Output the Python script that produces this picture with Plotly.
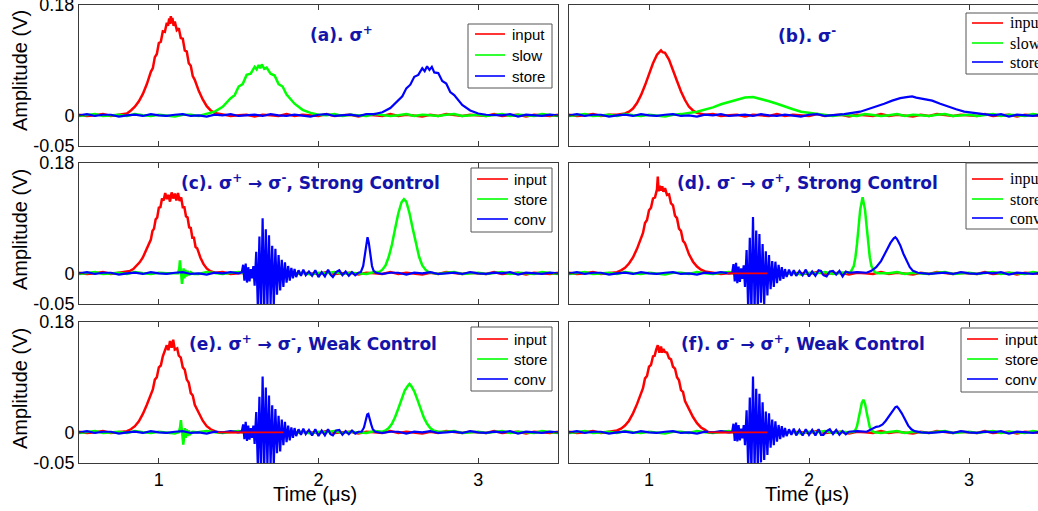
import plotly.graph_objects as go

W, H = 1038, 511
RED, GREEN, BLUE = "#ff0000", "#00ff00", "#0000ff"
TITLE_BLUE = "#1414aa"
FRAME = "#3a3a3a"

# ---------------- baseline noise shared by every trace ----------------
base_t = [0.50, 0.55, 0.60, 0.65, 0.70, 0.75, 0.80, 0.85, 0.90, 0.95,
          1.00, 1.05, 1.10, 1.15, 1.20, 1.25, 1.30, 1.35, 1.40, 1.45,
          1.50, 1.55, 1.60, 1.65, 1.70, 1.75, 1.80, 1.85, 1.90, 1.95,
          2.00, 2.05, 2.10, 2.15, 2.20, 2.25, 2.30, 2.35, 2.40, 2.45,
          2.50, 2.55, 2.60, 2.65, 2.70, 2.75, 2.80, 2.85, 2.90, 2.95,
          3.00, 3.05, 3.10, 3.15, 3.20, 3.25, 3.30, 3.35, 3.40, 3.45,
          3.50]
base_red = [0.001, -0.001, 0.000, 0.002, -0.001, 0.001, -0.002, 0.000, 0.001, -0.001,
            0.002, -0.001, 0.000, 0.001, -0.002, 0.001, 0.000, -0.001, 0.002, -0.001,
            0.000, 0.001, -0.002, 0.001, 0.000, -0.001, 0.002, -0.001, 0.001, 0.000,
            -0.001, 0.002, -0.001, 0.000, 0.001, -0.002, 0.001, 0.000, -0.001, 0.002,
            -0.001, 0.001, 0.000, -0.002, 0.001, -0.001, 0.002, 0.000, -0.001, 0.001,
            0.000, -0.001, 0.002, -0.001, 0.000, 0.001, -0.002, 0.001, 0.000, -0.001,
            0.001]
base_green = [-0.001, 0.001, 0.002, -0.001, 0.000, 0.001, -0.001, 0.002, 0.000, -0.001,
              0.001, 0.000, -0.002, 0.001, 0.001, -0.001, 0.002, 0.000, -0.001, 0.001,
              0.002, -0.001, 0.000, 0.001, -0.001, 0.002, 0.000, -0.001, 0.001, -0.002,
              0.001, 0.000, 0.002, -0.001, 0.001, 0.000, -0.001, 0.002, 0.001, -0.001,
              0.000, 0.002, -0.001, 0.001, 0.000, -0.001, 0.001, 0.002, -0.001, 0.000,
              0.001, -0.001, 0.000, 0.002, -0.001, 0.001, 0.000, -0.001, 0.002, 0.000,
              -0.001]
base_blue = [0.000, 0.002, -0.001, 0.001, 0.001, -0.002, 0.000, 0.001, -0.001, 0.002,
             0.000, -0.001, 0.001, 0.002, -0.001, 0.000, -0.002, 0.001, 0.000, 0.002,
             -0.001, 0.000, 0.001, -0.001, 0.002, 0.000, -0.001, 0.001, 0.000, -0.002,
             0.001, 0.002, -0.001, 0.000, 0.001, -0.001, 0.002, 0.000, -0.001, 0.001,
             0.001, -0.002, 0.001, 0.000, 0.002, -0.001, 0.000, 0.001, -0.001, 0.002,
             0.000, -0.001, 0.001, 0.000, 0.002, -0.002, 0.001, 0.000, -0.001, 0.001,
             0.000]

# ---------------- control-switching ringing (conv channel) ----------------
burst_t = [1.500, 1.520, 1.528, 1.536, 1.544, 1.552, 1.560, 1.568, 1.576, 1.584,
           1.592, 1.600, 1.610, 1.620, 1.630, 1.640, 1.650, 1.660, 1.670, 1.680,
           1.690, 1.700, 1.710, 1.720, 1.730, 1.740, 1.750, 1.760, 1.770, 1.780,
           1.790, 1.800, 1.810, 1.820, 1.830, 1.840, 1.850, 1.860, 1.875, 1.890,
           1.905, 1.920, 1.940, 1.960, 1.980, 2.000, 2.020, 2.040, 2.060, 2.075,
           2.090, 2.110, 2.130, 2.150, 2.170, 2.190, 2.210, 2.230, 2.250]
c_burst = [0.000, 0.002, 0.014, -0.012, 0.016, -0.015, 0.010, -0.013, 0.007, -0.008,
           0.012, -0.020, 0.035, -0.055, 0.060, -0.065, 0.090, -0.060, 0.072, -0.055,
           0.062, -0.050, 0.045, -0.052, 0.040, -0.035, 0.030, -0.028, 0.022, -0.022,
           0.018, -0.015, 0.012, -0.012, 0.009, -0.008, 0.007, -0.006, 0.005, -0.004,
           0.006, -0.003, 0.003, -0.004, 0.005, -0.006, 0.002, -0.005, 0.006, -0.002,
           -0.006, 0.002, 0.005, -0.003, 0.003, -0.004, 0.002, -0.003, 0.001]
d_burst = [0.000, 0.001, 0.015, -0.013, 0.017, -0.016, 0.011, -0.014, 0.008, -0.009,
           0.013, -0.022, 0.038, -0.060, 0.058, -0.062, 0.092, -0.058, 0.070, -0.060,
           0.064, -0.048, 0.048, -0.050, 0.036, -0.036, 0.030, -0.026, 0.020, -0.022,
           0.019, -0.016, 0.014, -0.012, 0.010, -0.009, 0.007, -0.006, 0.006, -0.004,
           0.005, -0.004, 0.004, -0.003, 0.006, -0.005, 0.003, -0.004, 0.005, 0.004,
           -0.003, -0.005, 0.003, 0.004, -0.002, 0.004, -0.005, 0.003, 0.001]
e_burst = [0.000, 0.002, 0.013, -0.011, 0.017, -0.014, 0.011, -0.012, 0.007, -0.009,
           0.011, -0.019, 0.033, -0.056, 0.058, -0.066, 0.091, -0.058, 0.073, -0.054,
           0.060, -0.052, 0.044, -0.053, 0.038, -0.034, 0.027, -0.031, 0.021, -0.021,
           0.017, -0.016, 0.011, -0.013, 0.008, -0.009, 0.007, -0.006, 0.005, -0.004,
           0.006, -0.003, 0.004, -0.005, 0.005, -0.006, 0.003, -0.005, 0.005, -0.003,
           -0.005, 0.003, 0.004, -0.004, 0.002, -0.003, 0.003, -0.002, 0.001]
f_burst = [0.000, 0.001, 0.014, -0.014, 0.016, -0.015, 0.012, -0.013, 0.006, -0.010,
           0.012, -0.021, 0.036, -0.058, 0.057, -0.063, 0.091, -0.057, 0.071, -0.059,
           0.063, -0.049, 0.049, -0.045, 0.034, -0.037, 0.031, -0.025, 0.021, -0.021,
           0.018, -0.015, 0.012, -0.011, 0.010, -0.008, 0.007, -0.006, 0.005, -0.004,
           0.006, -0.005, 0.004, -0.005, 0.005, -0.004, 0.004, -0.005, 0.005, -0.004,
           -0.004, 0.002, 0.005, -0.003, 0.004, -0.004, 0.002, -0.003, 0.001]

# ---------------- (a) sigma+ ----------------
a_input_t = [0.80, 0.825, 0.85, 0.875, 0.90, 0.925, 0.95,
             0.9625, 0.975, 0.9875, 1.00, 1.0125, 1.025, 1.0375, 1.05,
             1.0575, 1.065, 1.07, 1.075, 1.08, 1.085, 1.0925,
             1.10, 1.1125, 1.125, 1.1375, 1.15, 1.1625, 1.175, 1.1875, 1.20, 1.2125, 1.225,
             1.25, 1.275, 1.30, 1.325, 1.35, 1.40]
a_input_v = [0.003, 0.008, 0.014, 0.023, 0.035, 0.051, 0.071,
             0.077, 0.095, 0.100, 0.118, 0.120, 0.137, 0.136, 0.151,
             0.146, 0.158, 0.149, 0.162, 0.150, 0.159, 0.146,
             0.153, 0.139, 0.142, 0.126, 0.125, 0.106, 0.104, 0.085, 0.081, 0.064, 0.058,
             0.040, 0.026, 0.015, 0.008, 0.004, 0.001]
a_slow_t = [1.30, 1.35, 1.40, 1.45, 1.475, 1.50, 1.525, 1.55, 1.575, 1.60,
            1.6125, 1.625, 1.635, 1.645, 1.66, 1.675, 1.70, 1.725, 1.75, 1.775, 1.80,
            1.85, 1.90, 1.95, 2.00]
a_slow_v = [0.002, 0.006, 0.014, 0.028, 0.033, 0.047, 0.051, 0.066, 0.068, 0.079,
            0.075, 0.082, 0.077, 0.083, 0.076, 0.078, 0.068, 0.065, 0.051, 0.047, 0.034,
            0.019, 0.009, 0.004, 0.001]
a_store_t = [2.35, 2.40, 2.45, 2.50, 2.525, 2.55, 2.575, 2.60, 2.625, 2.65,
             2.665, 2.68, 2.695, 2.71, 2.725, 2.75, 2.775, 2.80, 2.825, 2.85,
             2.90, 2.95, 3.00, 3.05]
a_store_v = [0.002, 0.005, 0.012, 0.025, 0.031, 0.044, 0.050, 0.063, 0.066, 0.077,
             0.072, 0.080, 0.074, 0.079, 0.070, 0.069, 0.056, 0.052, 0.038, 0.033,
             0.017, 0.008, 0.003, 0.001]

# ---------------- (b) sigma- ----------------
b_input_t = [0.80, 0.85, 0.875, 0.90, 0.925, 0.95, 0.975, 1.00, 1.025, 1.05, 1.075,
             1.085, 1.10, 1.125, 1.15, 1.175, 1.20, 1.225, 1.25, 1.275, 1.30, 1.35]
b_input_v = [0.001, 0.003, 0.006, 0.011, 0.020, 0.033, 0.049, 0.067, 0.085, 0.099, 0.106,
             0.103, 0.102, 0.091, 0.075, 0.056, 0.039, 0.025, 0.014, 0.008, 0.004, 0.001]
b_slow_t = [1.20, 1.30, 1.35, 1.40, 1.45, 1.50, 1.55, 1.60, 1.65, 1.70, 1.75, 1.80,
            1.85, 1.90, 1.95, 2.00, 2.10]
b_slow_v = [0.002, 0.006, 0.009, 0.013, 0.018, 0.022, 0.026, 0.029, 0.030, 0.027, 0.023,
            0.019, 0.014, 0.010, 0.006, 0.004, 0.001]
b_store_t = [2.22, 2.32, 2.37, 2.42, 2.47, 2.52, 2.57, 2.62, 2.645, 2.67, 2.72, 2.77,
             2.82, 2.87, 2.92, 2.97, 3.02, 3.12]
b_store_v = [0.002, 0.006, 0.010, 0.014, 0.019, 0.024, 0.028, 0.030, 0.031, 0.029, 0.027,
             0.024, 0.019, 0.014, 0.010, 0.006, 0.004, 0.001]

# ---------------- (c) sigma+ -> sigma-, strong control ----------------
c_input_t = [0.80, 0.82, 0.84, 0.86, 0.88, 0.90, 0.92, 0.94,
             0.95, 0.96, 0.97, 0.98, 0.99, 1.00, 1.01, 1.02, 1.03, 1.04,
             1.05, 1.06, 1.07, 1.08, 1.09, 1.10, 1.11, 1.12, 1.13, 1.14,
             1.15, 1.16, 1.17, 1.18, 1.19, 1.20, 1.21, 1.22, 1.23, 1.24,
             1.26, 1.28, 1.30, 1.32, 1.35]
c_input_v = [0.002, 0.004, 0.007, 0.012, 0.018, 0.026, 0.037, 0.050,
             0.055, 0.069, 0.073, 0.088, 0.091, 0.107, 0.108, 0.122, 0.119, 0.131,
             0.121, 0.128, 0.117, 0.132, 0.122, 0.130, 0.119, 0.131, 0.118, 0.124,
             0.108, 0.108, 0.093, 0.091, 0.075, 0.074, 0.058, 0.058, 0.043, 0.041,
             0.026, 0.015, 0.008, 0.004, 0.001]
c_store_kick_t = [1.120, 1.128, 1.132, 1.136, 1.140, 1.145, 1.150, 1.155, 1.160, 1.166,
                  1.172, 1.180, 1.190, 1.200, 1.220]
c_store_kick_v = [0.000, 0.008, 0.021, 0.004, -0.012, -0.017, -0.006, 0.008, -0.008, 0.006,
                  -0.005, 0.004, -0.003, 0.002, -0.001]
c_store_main_t = [2.38, 2.40, 2.42, 2.44, 2.46, 2.48, 2.50, 2.52, 2.535, 2.55, 2.57, 2.59,
                  2.61, 2.63, 2.65, 2.67, 2.69, 2.72]
c_store_main_v = [0.002, 0.006, 0.013, 0.027, 0.047, 0.073, 0.098, 0.116, 0.121, 0.117, 0.098,
                  0.073, 0.047, 0.027, 0.013, 0.006, 0.002, 0.000]
c_conv_spike_t = [2.265, 2.280, 2.290, 2.300, 2.307, 2.315, 2.325, 2.335, 2.345, 2.360]
c_conv_spike_v = [0.002, 0.012, 0.030, 0.052, 0.059, 0.050, 0.028, 0.012, 0.004, 0.001]

# ---------------- (d) sigma- -> sigma+, strong control ----------------
d_input_t = [0.80, 0.825, 0.85, 0.875, 0.90, 0.925, 0.95,
             0.9625, 0.975, 0.9875, 1.00, 1.0125, 1.025, 1.0375, 1.05,
             1.055, 1.06, 1.0675, 1.075, 1.0825, 1.09, 1.10,
             1.1125, 1.125, 1.1375, 1.15, 1.1625, 1.175, 1.1875, 1.20, 1.2125, 1.225,
             1.25, 1.275, 1.30, 1.325, 1.35, 1.40]
d_input_v = [0.002, 0.005, 0.009, 0.016, 0.026, 0.040, 0.058,
             0.066, 0.082, 0.087, 0.103, 0.107, 0.122, 0.124, 0.137,
             0.158, 0.134, 0.143, 0.135, 0.142, 0.133, 0.139,
             0.128, 0.129, 0.114, 0.111, 0.094, 0.090, 0.073, 0.069, 0.053, 0.049,
             0.031, 0.019, 0.011, 0.006, 0.003, 0.001]
d_input_flat_t = [1.49, 1.74]
d_input_flat_v = [0.0, 0.0]
d_store_t = [2.26, 2.28, 2.29, 2.30, 2.31, 2.32, 2.335, 2.35, 2.36, 2.37, 2.38, 2.39,
             2.41, 2.43]
d_store_v = [0.002, 0.012, 0.026, 0.048, 0.077, 0.104, 0.124, 0.104, 0.077, 0.048, 0.026,
             0.012, 0.002, 0.000]
d_conv_bump_t = [2.36, 2.39, 2.42, 2.45, 2.47, 2.49, 2.51, 2.53, 2.54, 2.55, 2.57, 2.59,
                 2.61, 2.63, 2.65, 2.68]
d_conv_bump_v = [0.001, 0.004, 0.010, 0.020, 0.030, 0.040, 0.050, 0.057, 0.059, 0.056, 0.046,
                 0.032, 0.020, 0.010, 0.004, 0.001]

# ---------------- (e) sigma+ -> sigma-, weak control ----------------
e_input_t = [0.80, 0.825, 0.85, 0.875, 0.90, 0.925, 0.95,
             0.9625, 0.975, 0.9875, 1.00, 1.0125, 1.025,
             1.04, 1.05, 1.06, 1.07, 1.08, 1.09, 1.10, 1.115,
             1.125, 1.1375, 1.15, 1.1625, 1.175, 1.1875, 1.20, 1.2125, 1.225,
             1.25, 1.275, 1.30, 1.325, 1.35]
e_input_v = [0.002, 0.005, 0.010, 0.018, 0.030, 0.045, 0.063,
             0.070, 0.086, 0.090, 0.106, 0.109, 0.124,
             0.134, 0.142, 0.134, 0.149, 0.138, 0.151, 0.135, 0.137,
             0.125, 0.122, 0.106, 0.102, 0.086, 0.081, 0.064, 0.060, 0.045,
             0.031, 0.019, 0.010, 0.005, 0.002]
e_input_flat_t = [1.37, 1.78]
e_input_flat_v = [0.0, 0.0]
e_store_kick_t = [1.125, 1.133, 1.138, 1.143, 1.148, 1.153, 1.158, 1.163, 1.168, 1.174,
                  1.180, 1.188, 1.196, 1.210, 1.240]
e_store_kick_v = [0.000, 0.008, 0.020, 0.006, -0.014, -0.020, -0.008, 0.007, -0.009, 0.005,
                  -0.006, 0.003, -0.003, 0.001, 0.000]
e_store_main_t = [2.40, 2.42, 2.44, 2.46, 2.48, 2.50, 2.52, 2.54, 2.56, 2.57, 2.58, 2.60,
                  2.62, 2.64, 2.66, 2.68, 2.70, 2.72, 2.75]
e_store_main_v = [0.001, 0.003, 0.007, 0.014, 0.025, 0.039, 0.055, 0.068, 0.076, 0.079, 0.076,
                  0.067, 0.053, 0.038, 0.024, 0.014, 0.007, 0.003, 0.001]
e_conv_spike_t = [2.270, 2.285, 2.295, 2.305, 2.312, 2.320, 2.330, 2.340, 2.355]
e_conv_spike_v = [0.001, 0.008, 0.020, 0.029, 0.030, 0.024, 0.013, 0.005, 0.001]

# ---------------- (f) sigma- -> sigma+, weak control ----------------
f_input_t = [0.80, 0.825, 0.85, 0.875, 0.90, 0.925, 0.95,
             0.9625, 0.975, 0.9875, 1.00, 1.0125, 1.025,
             1.035, 1.045, 1.055, 1.065, 1.075, 1.0825, 1.09, 1.10,
             1.1125, 1.125, 1.1375, 1.15, 1.1625, 1.175, 1.1875, 1.20, 1.2125, 1.225,
             1.25, 1.275, 1.30, 1.325, 1.35]
f_input_v = [0.003, 0.006, 0.011, 0.019, 0.031, 0.046, 0.065,
             0.072, 0.088, 0.092, 0.107, 0.110, 0.124,
             0.125, 0.135, 0.142, 0.130, 0.140, 0.130, 0.136, 0.131,
             0.130, 0.121, 0.119, 0.107, 0.104, 0.090, 0.085, 0.069, 0.066, 0.051,
             0.038, 0.025, 0.015, 0.008, 0.004]
f_input_flat_t = [1.37, 1.74]
f_input_flat_v = [0.0, 0.0]
f_store_t = [2.28, 2.29, 2.30, 2.31, 2.32, 2.33, 2.34, 2.35, 2.36, 2.37, 2.38, 2.39, 2.41]
f_store_v = [0.001, 0.004, 0.010, 0.021, 0.035, 0.048, 0.053, 0.047, 0.033, 0.018, 0.008,
             0.003, 0.000]
f_conv_bump_t = [2.36, 2.38, 2.40, 2.42, 2.44, 2.46, 2.48, 2.50, 2.52, 2.54, 2.55, 2.56,
                 2.58, 2.60, 2.62, 2.64, 2.66, 2.70]
f_conv_bump_v = [0.001, 0.004, 0.007, 0.009, 0.010, 0.013, 0.019, 0.027, 0.035, 0.041, 0.042,
                 0.039, 0.031, 0.020, 0.011, 0.005, 0.002, 0.000]

y_ticks = [-0.05, 0, 0.18]
y_tick_text = ["-0.05", "0", "0.18"]
x_ticks = [1, 2, 3]


def build(base_v, *segments):
    """Join measured pulse segments with the baseline record outside them."""
    spans, pts = [], []
    for t, v in segments:
        assert len(t) == len(v)
        spans.append((min(t), max(t)))
        pts += list(zip(t, v))
    assert len(base_t) == len(base_v)
    for t, v in zip(base_t, base_v):
        if not any(lo - 0.02 <= t <= hi + 0.02 for lo, hi in spans):
            pts.append((t, v))
    pts.sort()
    return [p[0] for p in pts], [p[1] for p in pts]


panels = [
    dict(title="(a). σ<sup>+</sup>", names=["input", "slow", "store"],
         red=build(base_red, (a_input_t, a_input_v)),
         green=build(base_green, (a_slow_t, a_slow_v)),
         blue=build(base_blue, (a_store_t, a_store_v)), flat=None),
    dict(title="(b). σ<sup>-</sup>", names=["input", "slow", "store"],
         red=build(base_red, (b_input_t, b_input_v)),
         green=build(base_green, (b_slow_t, b_slow_v)),
         blue=build(base_blue, (b_store_t, b_store_v)), flat=None),
    dict(title="(c). σ<sup>+</sup> → σ<sup>-</sup>, Strong Control", names=["input", "store", "conv"],
         red=build(base_red, (c_input_t, c_input_v)),
         green=build(base_green, (c_store_kick_t, c_store_kick_v), (c_store_main_t, c_store_main_v)),
         blue=build(base_blue, (burst_t, c_burst), (c_conv_spike_t, c_conv_spike_v)), flat=None),
    dict(title="(d). σ<sup>-</sup> → σ<sup>+</sup>, Strong Control", names=["input", "store", "conv"],
         red=build(base_red, (d_input_t, d_input_v), (d_input_flat_t, d_input_flat_v)),
         green=build(base_green, (d_store_t, d_store_v)),
         blue=build(base_blue, (burst_t, d_burst), (d_conv_bump_t, d_conv_bump_v)),
         flat=(d_input_flat_t, d_input_flat_v)),
    dict(title="(e). σ<sup>+</sup> → σ<sup>-</sup>, Weak Control", names=["input", "store", "conv"],
         red=build(base_red, (e_input_t, e_input_v), (e_input_flat_t, e_input_flat_v)),
         green=build(base_green, (e_store_kick_t, e_store_kick_v), (e_store_main_t, e_store_main_v)),
         blue=build(base_blue, (burst_t, e_burst), (e_conv_spike_t, e_conv_spike_v)),
         flat=(e_input_flat_t, e_input_flat_v)),
    dict(title="(f). σ<sup>-</sup> → σ<sup>+</sup>, Weak Control", names=["input", "store", "conv"],
         red=build(base_red, (f_input_t, f_input_v), (f_input_flat_t, f_input_flat_v)),
         green=build(base_green, (f_store_t, f_store_v)),
         blue=build(base_blue, (burst_t, f_burst), (f_conv_bump_t, f_conv_bump_v)),
         flat=(f_input_flat_t, f_input_flat_v)),
]


def px(x):
    return x / W


def py(y):
    return 1 - y / H


# panel frames in pixels: columns (left, right) and rows (top, bottom)
col_px = [(79, 558), (569, W)]
col_range = [[0.5, 3.5], [0.5, 0.5 + (W - 569) / 160.0]]
row_px = [(5, 146), (163, 304), (322, 463)]

# title centres, legend geometry: box, line x-span, text x, line ys, font
title_pos = [(341, 34), (807, 35), (310, 181.5), (807, 181.5), (313, 343), (803, 343)]
legend_geo = [
    (468, 24, 552, 88, 475, 505, 510, [34, 55, 76], "Liberation Sans", 15),
    (966, 13, 1070, 74, 972, 1003, 1008, [23, 43, 62], "Liberation Serif", 16),
    (471, 168, 552, 232, 477, 508, 512, [179, 199, 219], "Liberation Sans", 15),
    (966, 163, 1070, 229, 972, 1003, 1008, [179, 199, 218], "Liberation Serif", 16),
    (471, 327, 552, 391, 477, 508, 512, [339, 359, 379], "Liberation Sans", 15),
    (961, 328, 1070, 392, 967, 998, 1003, [339, 359, 379], "Liberation Sans", 15),
]

fig = go.Figure()
layout = dict(width=W, height=H, margin=dict(l=0, r=0, t=0, b=0),
              paper_bgcolor="white", plot_bgcolor="white", showlegend=False,
              template="none")
shapes, annotations = [], []
tick_font = dict(family="Liberation Sans", size=18, color="black")

for i, p in enumerate(panels):
    n = i + 1
    row, col = divmod(i, 2)
    xs = "x" if n == 1 else f"x{n}"
    ys = "y" if n == 1 else f"y{n}"
    for (tt, vv), colr, wd in ((p["red"], RED, 2.5), (p["green"], GREEN, 2.5),
                               (p["blue"], BLUE, 2.2)):
        fig.add_trace(go.Scatter(x=tt, y=vv, mode="lines", xaxis=xs, yaxis=ys,
                                 line=dict(color=colr, width=wd), hoverinfo="skip"))
    if p["flat"] is not None:
        fig.add_trace(go.Scatter(x=p["flat"][0], y=p["flat"][1], mode="lines",
                                 xaxis=xs, yaxis=ys, line=dict(color=RED, width=1.6),
                                 hoverinfo="skip"))

    x0, x1 = col_px[col]
    y0, y1 = row_px[row]
    layout[f"xaxis{'' if n == 1 else n}"] = dict(
        domain=[px(x0), min(1.0, px(x1))], range=col_range[col], anchor=ys,
        tickvals=x_ticks, ticks="inside", ticklen=5, tickcolor=FRAME,
        showline=True, linecolor=FRAME, linewidth=1, mirror="ticks",
        showticklabels=(row == 2), tickfont=tick_font, showgrid=False,
        zeroline=False, automargin=False, fixedrange=True,
        ticklabeloverflow="allow")
    layout[f"yaxis{'' if n == 1 else n}"] = dict(
        domain=[py(y1), py(y0)], range=[-0.05, 0.18], anchor=xs,
        tickvals=y_ticks, ticktext=y_tick_text, ticks="inside", ticklen=5,
        tickcolor=FRAME, showline=True, linecolor=FRAME, linewidth=1,
        mirror=("ticks" if col == 0 else False), showticklabels=(col == 0),
        tickfont=tick_font, showgrid=False, zeroline=False, automargin=False,
        fixedrange=True, ticklabeloverflow="allow")

    tx, ty = title_pos[i]
    annotations.append(dict(text=p["title"], x=px(tx), y=py(ty), xref="paper", yref="paper",
                            showarrow=False, xanchor="center", yanchor="middle",
                            font=dict(family="DejaVu Sans", size=17, color=TITLE_BLUE,
                                      weight="bold")))

    bx0, by0, bx1, by1, lx0, lx1, txt_x, lys, fam, fsz = legend_geo[i]
    shapes.append(dict(type="rect", xref="paper", yref="paper",
                       x0=px(bx0), x1=px(bx1), y0=py(by1), y1=py(by0),
                       line=dict(color="#555555", width=1), fillcolor="white"))
    for name, colr, ly in zip(p["names"], (RED, GREEN, BLUE), lys):
        shapes.append(dict(type="line", xref="paper", yref="paper",
                           x0=px(lx0), x1=px(lx1), y0=py(ly), y1=py(ly),
                           line=dict(color=colr, width=1.6)))
        annotations.append(dict(text=name, x=px(txt_x), y=py(ly), xref="paper", yref="paper",
                                showarrow=False, xanchor="left", yanchor="middle",
                                font=dict(family=fam, size=fsz, color="black")))

# axis titles
for yc in (71, 230, 389):
    annotations.append(dict(text="Amplitude (V)", x=px(20), y=py(yc), xref="paper",
                            yref="paper", showarrow=False, textangle=-90,
                            xanchor="center", yanchor="middle",
                            font=dict(family="Liberation Sans", size=20, color="black")))
for xc in (315, 807):
    annotations.append(dict(text="Time (μs)", x=px(xc), y=py(494), xref="paper",
                            yref="paper", showarrow=False, xanchor="center",
                            yanchor="middle",
                            font=dict(family="Liberation Sans", size=20, color="black")))

layout["shapes"] = shapes
layout["annotations"] = annotations
fig.update_layout(**layout)
fig.write_html("out.html", config={"displayModeBar": False})
